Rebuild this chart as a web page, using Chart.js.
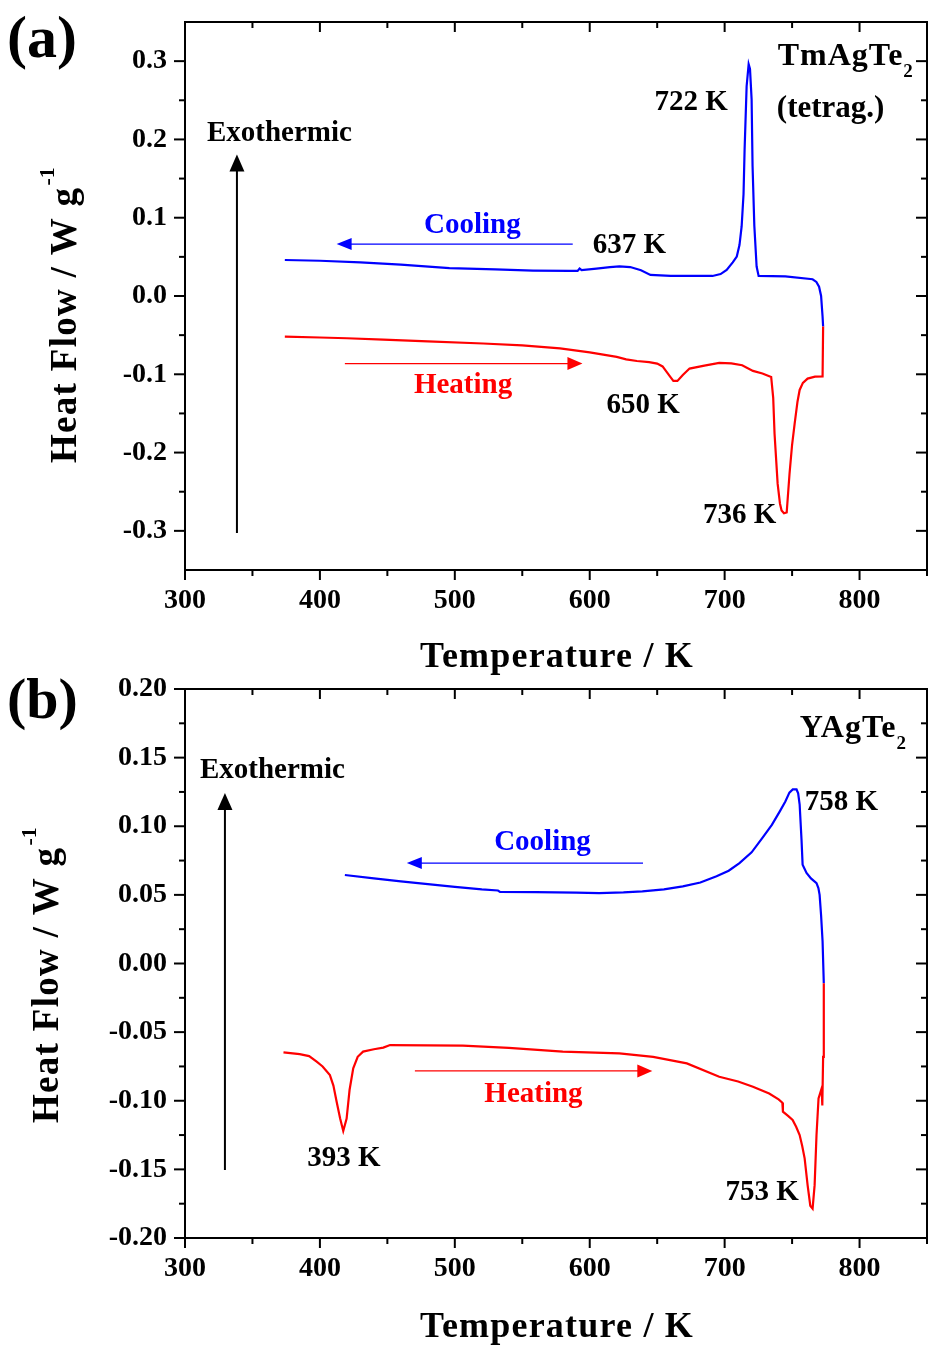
<!DOCTYPE html>
<html>
<head>
<meta charset="utf-8">
<script src="https://cdn.jsdelivr.net/npm/chart.js@4.4.1/dist/chart.umd.min.js"></script>
<style>
  body { margin: 0; background: #fff; overflow: hidden; }
  #page { position: relative; width: 928px; height: 1345px; }
  canvas { position: absolute; left: 0; }
  #chartA { top: 0; }
  #chartB { top: 672px; }
</style>
</head>
<body>
<div id="page">
  <canvas id="chartA" width="928" height="680"></canvas>
  <canvas id="chartB" width="928" height="673"></canvas>
</div>
<script>
// ---- data (temperature in K, heat flow in W/g) ----
const xMajorTicks = [300, 400, 500, 600, 700, 800];
const xMinorTicks = [350, 450, 550, 650, 750, 850];

const yMajorA = [-0.3, -0.2, -0.1, 0, 0.1, 0.2, 0.3];
const yMinorA = [-0.25, -0.15, -0.05, 0.05, 0.15, 0.25];
const yMajorB = [-0.2, -0.15, -0.1, -0.05, 0, 0.05, 0.1, 0.15, 0.2];
const yMinorB = [-0.175, -0.125, -0.075, -0.025, 0.025, 0.075, 0.125, 0.175];

// (a) TmAgTe2
const coolA_T = [374, 400, 430, 460, 496, 530, 558, 585, 591, 592.5, 594, 605, 615, 622, 630, 638, 645, 660, 680, 691,
  697, 701.5, 706, 709, 711, 712.6, 714, 714.8, 716.3, 717.8, 718.8, 720, 720.7, 722, 723.7, 725.2, 745, 765.2, 768, 770,
  771.5, 772.6, 773];
const coolA_Q = [0.046, 0.045, 0.043, 0.040, 0.0355, 0.034, 0.0325, 0.032, 0.032, 0.035, 0.033, 0.035, 0.037, 0.0378, 0.037,
  0.033, 0.027, 0.0256, 0.0256, 0.0256, 0.028, 0.0333, 0.043, 0.0504, 0.065, 0.0888, 0.13, 0.187, 0.268, 0.296, 0.29,
  0.251, 0.166, 0.09, 0.0376, 0.0256, 0.025, 0.0214, 0.018, 0.0119, 0.0, -0.0265, -0.039];
const heatA_T = [374, 400, 420, 447, 480, 521, 550, 578, 600, 620, 627, 635, 644, 650, 654, 657, 660, 662, 665, 669,
  674, 685, 696, 705, 713, 721, 728, 734.5, 736, 737, 739.3, 741, 742.2, 744, 746, 748.1, 750, 751.9, 754, 755.6,
  758, 761.5, 767, 772.6, 773];
const heatA_Q = [-0.052, -0.053, -0.054, -0.0556, -0.058, -0.0607, -0.063, -0.067, -0.072, -0.0778, -0.081, -0.083, -0.0845,
  -0.0863, -0.090, -0.097, -0.104, -0.1085, -0.1085, -0.101, -0.0927, -0.089, -0.0855, -0.086, -0.0885, -0.0957, -0.099,
  -0.1034, -0.13, -0.176, -0.24, -0.265, -0.274, -0.2775, -0.2765, -0.227, -0.19, -0.163, -0.135, -0.12, -0.111, -0.1055,
  -0.103, -0.1026, -0.039];

// (b) YAgTe2
const coolB_T = [418.5, 440, 460, 480, 500, 520, 532, 533.5, 560, 590, 607, 625, 639, 655, 669, 682, 694, 703, 711, 720,
  728, 735, 741, 745, 748, 750.5, 753.3, 754.5, 755.6, 757, 757.8, 760.7, 764, 768.1, 769.5, 770.4, 771.5, 772.6, 773.5];
const coolB_Q = [0.0645, 0.062, 0.0598, 0.0578, 0.0558, 0.054, 0.0532, 0.0522, 0.052, 0.0516, 0.0513, 0.0518, 0.0526, 0.054,
  0.0562, 0.059, 0.0635, 0.0676, 0.0732, 0.081, 0.0915, 0.101, 0.111, 0.118, 0.1245, 0.1268, 0.1268, 0.124, 0.1158, 0.09,
  0.072, 0.066, 0.062, 0.0586, 0.055, 0.050, 0.035, 0.016, -0.0144];
const heatB_T = [373, 385, 392, 397.6, 402, 407.4, 410, 412.4, 415, 417.3, 419.8, 422, 424.7, 428, 432, 440, 447, 452, 480,
  506, 540, 580, 622, 647, 672, 696, 710, 721, 733, 740, 742.8, 743.2, 747, 750.4, 753, 755.6, 757.5, 759.3, 761.5, 763.5,
  765.2, 766.7, 768.1, 769.6, 771.9, 772.4, 773, 773.5];
const heatB_Q = [-0.0647, -0.066, -0.0675, -0.0715, -0.075, -0.0813, -0.089, -0.1007, -0.113, -0.122, -0.113, -0.092, -0.0764,
  -0.068, -0.0642, -0.0625, -0.0613, -0.0594, -0.0597, -0.0599, -0.0615, -0.0642, -0.0655, -0.068, -0.0728, -0.0825, -0.086,
  -0.0898, -0.0947, -0.099, -0.1015, -0.108, -0.111, -0.114, -0.119, -0.125, -0.133, -0.142, -0.1615, -0.1765, -0.1786,
  -0.1615, -0.125, -0.0983, -0.091, -0.1034, -0.068, -0.0144];

const BLUE = '#0000ff';
const RED = '#ff0000';
const SERIF = "'Liberation Serif', 'Times New Roman', serif";

// annotations, placed in data coordinates
const notesA = [
  {kind: 'text', text: 'Exothermic', x: 316.3, y: 0.1974, size: 29},
  {kind: 'arrow', x1: 338.5, y1: -0.3026, x2: 338.5, y2: 0.1808, lw: 2, head: 17, headW: 15, color: '#000'},
  {kind: 'text', text: 'Cooling', x: 513, y: 0.0808, size: 29, color: BLUE, align: 'center'},
  {kind: 'arrow', x1: 587.4, y1: 0.0663, x2: 412.4, y2: 0.0663, lw: 1.2, head: 15, headW: 12, color: BLUE},
  {kind: 'text', text: 'Heating', x: 506.1, y: -0.1244, size: 29, color: RED, align: 'center'},
  {kind: 'arrow', x1: 418.5, y1: -0.0863, x2: 594.6, y2: -0.0863, lw: 1.2, head: 15, headW: 13, color: RED},
  {kind: 'text', text: '637 K', x: 602.2, y: 0.0548, size: 29},
  {kind: 'text', text: '722 K', x: 648.1, y: 0.2376, size: 29},
  {kind: 'text', text: '650 K', x: 612.4, y: -0.1496, size: 29},
  {kind: 'text', text: '736 K', x: 684, y: -0.2906, size: 29},
  {kind: 'chem', text: 'TmAgTe', sub: '2', x: 739.3, y: 0.2953, size: 32},
  {kind: 'text', text: '(tetrag.)', x: 738.7, y: 0.229, size: 31}
];
const notesB = [
  {kind: 'text', text: 'Exothermic', x: 311.1, y: 0.1348, size: 29},
  {kind: 'arrow', x1: 329.6, y1: -0.1504, x2: 329.6, y2: 0.1243, lw: 2, head: 17, headW: 15, color: '#000'},
  {kind: 'text', text: 'Cooling', x: 565, y: 0.0825, size: 29, color: BLUE, align: 'center'},
  {kind: 'arrow', x1: 639.5, y1: 0.0732, x2: 464.4, y2: 0.0732, lw: 1.2, head: 15, headW: 12, color: BLUE},
  {kind: 'text', text: 'Heating', x: 558.3, y: -0.1007, size: 29, color: RED, align: 'center'},
  {kind: 'arrow', x1: 470.4, y1: -0.0783, x2: 646.4, y2: -0.0783, lw: 1.2, head: 15, headW: 13, color: RED},
  {kind: 'text', text: '393 K', x: 390.6, y: -0.1474, size: 29},
  {kind: 'text', text: '753 K', x: 700.7, y: -0.1725, size: 29},
  {kind: 'text', text: '758 K', x: 759.3, y: 0.1115, size: 29},
  {kind: 'chem', text: 'YAgTe', sub: '2', x: 755.6, y: 0.165, size: 32}
];

function pts(T, Q) {
  return T.map((t, i) => ({x: t, y: Q[i]}));
}

function bold(size) {
  return 'bold ' + size + 'px ' + SERIF;
}

function drawArrow(ctx, x1, y1, x2, y2, lw, head, headW, color) {
  const ang = Math.atan2(y2 - y1, x2 - x1);
  ctx.strokeStyle = color;
  ctx.fillStyle = color;
  ctx.lineWidth = lw;
  ctx.beginPath();
  ctx.moveTo(x1, y1);
  ctx.lineTo(x2 - Math.cos(ang) * head * 0.8, y2 - Math.sin(ang) * head * 0.8);
  ctx.stroke();
  ctx.save();
  ctx.translate(x2, y2);
  ctx.rotate(ang);
  ctx.beginPath();
  ctx.moveTo(0, 0);
  ctx.lineTo(-head, -headW / 2);
  ctx.lineTo(-head, headW / 2);
  ctx.closePath();
  ctx.fill();
  ctx.restore();
}

// frame, ticks on all four sides, titles and annotations
function decor(spec) {
  return {
    id: 'decor',
    afterDraw(chart) {
      const {ctx, chartArea: a, scales: {x, y}} = chart;
      ctx.save();
      ctx.strokeStyle = '#000';
      ctx.lineWidth = 2;
      ctx.strokeRect(a.left, a.top, a.right - a.left, a.bottom - a.top);

      const tick = (x1, y1, x2, y2) => { ctx.beginPath(); ctx.moveTo(x1, y1); ctx.lineTo(x2, y2); ctx.stroke(); };
      xMajorTicks.concat(xMinorTicks).forEach(v => {
        const px = x.getPixelForValue(v);
        const len = xMajorTicks.includes(v) ? 10 : 6;
        tick(px, a.bottom, px, a.bottom + len);
        tick(px, a.top, px, a.top + len);
      });
      spec.yMajor.concat(spec.yMinor).forEach(v => {
        const py = y.getPixelForValue(v);
        const len = spec.yMajor.includes(v) ? 11 : 6;
        tick(a.left - len, py, a.left, py);
        tick(a.right - len, py, a.right, py);
      });

      ctx.fillStyle = '#000';
      ctx.textBaseline = 'alphabetic';

      // panel label
      ctx.textAlign = 'left';
      ctx.font = bold(spec.panel.size);
      ctx.fillText(spec.panel.text, spec.panel.x, spec.panel.y);

      // x title
      ctx.font = bold(36);
      ctx.letterSpacing = '1.2px';
      ctx.textAlign = 'center';
      ctx.fillText('Temperature / K', spec.xTitle.x, spec.xTitle.y);

      // y title with superscript
      ctx.save();
      ctx.translate(spec.yTitle.x, spec.yTitle.y);
      ctx.rotate(-Math.PI / 2);
      ctx.textAlign = 'left';
      ctx.font = bold(37);
      ctx.letterSpacing = '1.3px';
      const main = 'Heat Flow / W g';
      ctx.fillText(main, 0, 0);
      const w = ctx.measureText(main).width;
      ctx.font = bold(22);
      ctx.letterSpacing = '0px';
      ctx.fillText('-1', w + 1, -22);
      ctx.restore();
      ctx.letterSpacing = '0px';

      spec.notes.forEach(n => {
        if (n.kind === 'arrow') {
          drawArrow(ctx, x.getPixelForValue(n.x1), y.getPixelForValue(n.y1),
            x.getPixelForValue(n.x2), y.getPixelForValue(n.y2), n.lw, n.head, n.headW, n.color);
          return;
        }
        const px = x.getPixelForValue(n.x);
        const py = y.getPixelForValue(n.y);
        ctx.fillStyle = n.color || '#000';
        ctx.textAlign = n.align || 'left';
        ctx.font = bold(n.size);
        if (n.kind === 'chem') {
          ctx.letterSpacing = '1px';
          ctx.fillText(n.text, px, py);
          const tw = ctx.measureText(n.text).width;
          ctx.letterSpacing = '0px';
          ctx.font = bold(19);
          ctx.fillText(n.sub, px + tw, py + 12);
        } else {
          ctx.fillText(n.text, px, py);
        }
      });
      ctx.restore();
    }
  };
}

function makeChart(id, spec) {
  const tickFont = {family: SERIF, size: 28, weight: 'bold'};
  return new Chart(document.getElementById(id), {
    type: 'line',
    data: {
      datasets: [
        {data: pts(spec.heatT, spec.heatQ), borderColor: RED},
        {data: pts(spec.coolT, spec.coolQ), borderColor: BLUE}
      ]
    },
    options: {
      responsive: false,
      animation: false,
      devicePixelRatio: 1,
      layout: {padding: {top: spec.top, right: 1, left: 0, bottom: 0}},
      plugins: {legend: {display: false}, tooltip: {enabled: false}},
      elements: {
        point: {radius: 0},
        line: {tension: 0, borderWidth: 2.2, fill: false}
      },
      scales: {
        x: {
          type: 'linear', min: 300, max: 850,
          afterBuildTicks: s => { s.ticks = xMajorTicks.map(v => ({value: v})); },
          afterFit: s => { s.height = spec.xAxisH; s.paddingLeft = 0; s.paddingRight = 0; },
          grid: {display: false, drawTicks: false},
          border: {display: false},
          ticks: {padding: spec.xPad, color: '#000', font: tickFont, maxRotation: 0, autoSkip: false,
            callback: v => String(v)}
        },
        y: {
          type: 'linear', min: spec.yMin, max: spec.yMax,
          afterBuildTicks: s => { s.ticks = spec.yMajor.map(v => ({value: v})); },
          afterFit: s => { s.width = 185; s.paddingTop = 0; s.paddingBottom = 0; },
          grid: {display: false, drawTicks: false},
          border: {display: false},
          ticks: {padding: 18, color: '#000', font: tickFont, autoSkip: false,
            callback: v => v.toFixed(spec.dec)}
        }
      }
    },
    plugins: [decor(spec)]
  });
}

makeChart('chartA', {
  coolT: coolA_T, coolQ: coolA_Q, heatT: heatA_T, heatQ: heatA_Q,
  yMin: -0.35, yMax: 0.35, yMajor: yMajorA, yMinor: yMinorA, dec: 1,
  top: 22, xAxisH: 110, xPad: 14,
  panel: {text: '(a)', x: 7, y: 57, size: 60},
  xTitle: {x: 557, y: 667},
  yTitle: {x: 76, y: 463},
  notes: notesA
});

makeChart('chartB', {
  coolT: coolB_T, coolQ: coolB_Q, heatT: heatB_T, heatQ: heatB_Q,
  yMin: -0.2, yMax: 0.2, yMajor: yMajorB, yMinor: yMinorB, dec: 2,
  top: 17, xAxisH: 107, xPad: 14,
  panel: {text: '(b)', x: 7, y: 46, size: 58},
  xTitle: {x: 557, y: 665},
  yTitle: {x: 58, y: 451},
  notes: notesB
});
</script>
</body>
</html>
